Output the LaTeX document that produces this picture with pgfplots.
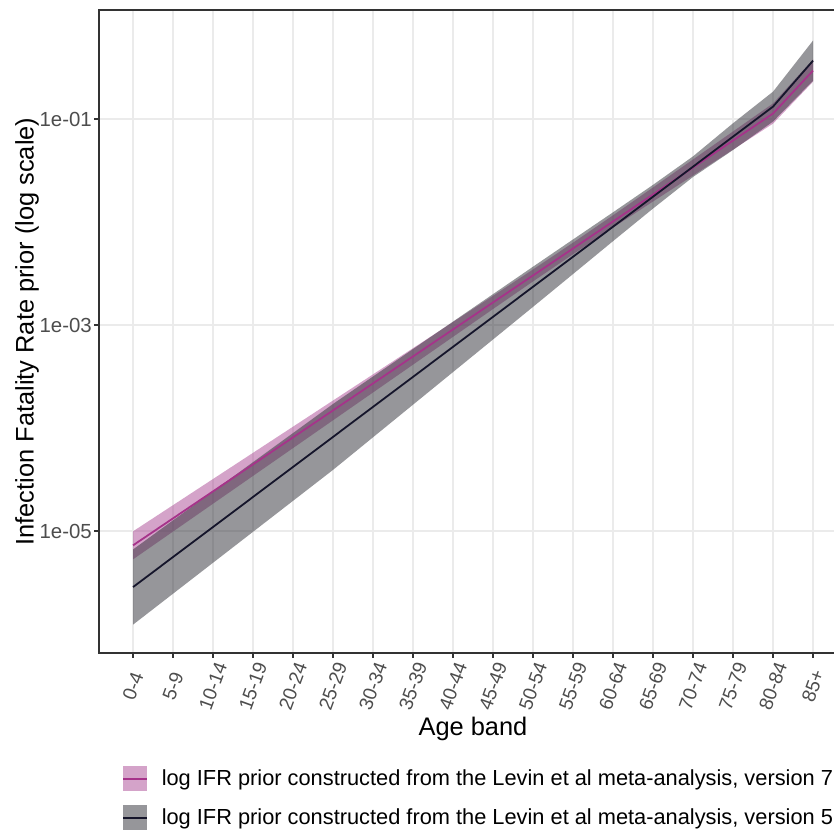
\documentclass[border=0pt]{standalone}
\usepackage{fontspec}
\setmainfont{Liberation Sans}
\usepackage{pgfplots}
\usepackage{pgfplotstable}
\pgfplotsset{compat=1.18}
\usepgfplotslibrary{fillbetween}
\definecolor{pinkfill}{HTML}{A94793}
\definecolor{pinkline}{HTML}{A6338A}
\definecolor{grayfill}{HTML}{2D2D35}
\definecolor{darkline}{HTML}{15152B}
\definecolor{gridc}{HTML}{EBEBEB}
\definecolor{axc}{HTML}{333333}
\definecolor{tickc}{HTML}{4D4D4D}
% log10 of the IFR prior: centre, lower and upper band edge
\pgfplotstableread{
i pc plo phi bc blo bhi
0 -5.139 -5.275 -5.003 -5.544 -5.909 -5.179
1 -4.877 -5.005 -4.749 -5.2525 -5.6085 -4.8965
2 -4.615 -4.735 -4.495 -4.961 -5.308 -4.614
3 -4.353 -4.465 -4.241 -4.6695 -5.0075 -4.3315
4 -4.091 -4.195 -3.987 -4.378 -4.707 -4.049
5 -3.829 -3.925 -3.733 -4.0865 -4.4065 -3.7665
6 -3.567 -3.655 -3.479 -3.795 -4.090 -3.500
7 -3.305 -3.385 -3.225 -3.5035 -3.7735 -3.2335
8 -3.043 -3.115 -2.971 -3.212 -3.457 -2.967
9 -2.781 -2.845 -2.717 -2.9205 -3.1405 -2.7005
10 -2.519 -2.577 -2.461 -2.629 -2.824 -2.434
11 -2.257 -2.313 -2.201 -2.3375 -2.5055 -2.1695
12 -1.995 -2.055 -1.935 -2.046 -2.186 -1.906
13 -1.733 -1.801 -1.665 -1.7545 -1.8695 -1.6395
14 -1.471 -1.549 -1.393 -1.463 -1.563 -1.363
15 -1.209 -1.297 -1.121 -1.1715 -1.3015 -1.0415
16 -0.947 -1.045 -0.849 -0.880 -1.025 -0.735
17 -0.530 -0.638 -0.422 -0.434 -0.629 -0.239
}\data
\begin{document}
\begin{tikzpicture}[x=1pt,y=1pt]
\begin{axis}[
  at={(49.5pt,89.5pt)}, anchor=south west, scale only axis,
  width=374pt, height=321.5pt,
  xmin=-0.85, xmax=17.85, ymin=-6.184, ymax=0.058,
  axis line style={axc, line width=0.9pt},
  tick style={axc, line width=0.9pt},
  major tick length=2.4pt,
  tick align=outside,
  xtick pos=lower, ytick pos=left,
  grid=major,
  major grid style={gridc, line width=1pt},
  xtick={0,1,...,17},
  xticklabels={0-4,5-9,10-14,15-19,20-24,25-29,30-34,35-39,40-44,45-49,50-54,55-59,60-64,65-69,70-74,75-79,80-84,85+},
  ytick={-5,-3,-1},
  yticklabels={1e-05,1e-03,1e-01},
  ticklabel style={text=tickc},
  xticklabel style={font=\fontsize{9.6}{11}\selectfont, rotate=70, anchor=center, inner sep=0pt},
  xticklabel shift=14.1pt,
  yticklabel style={font=\fontsize{10.2}{12}\selectfont, inner sep=1pt},
  xlabel={Age band},
  ylabel={Infection Fatality Rate prior (log scale)},
  label style={font=\fontsize{12.7}{15}\selectfont, text=black},
  xlabel style={at={(axis description cs:0.5,-0.118)}, anchor=center},
  ylabel style={at={(axis description cs:-0.0963,0.5)}, anchor=center},
  legend style={at={(axis description cs:0.0307,-0.1757)}, anchor=north west,
    draw=none, fill=none, inner sep=0pt, font=\fontsize{10.9}{13}\selectfont,
    nodes={inner sep=0pt}, column sep=6.8pt, row sep=7pt},
  legend cell align=left,
]
\addplot[draw=none, name path=plo, forget plot] table[x=i,y=plo]{\data};
\addplot[draw=none, name path=phi, forget plot] table[x=i,y=phi]{\data};
\addplot[draw=none, name path=blo, forget plot] table[x=i,y=blo]{\data};
\addplot[draw=none, name path=bhi, forget plot] table[x=i,y=bhi]{\data};
\addplot[pinkfill, fill opacity=0.5, draw=none, forget plot] fill between[of=plo and phi];
\addplot[grayfill, fill opacity=0.5, draw=none, forget plot] fill between[of=blo and bhi];
\addplot[pinkline, line width=0.9pt, forget plot] table[x=i,y=pc]{\data};
\addplot[darkline, line width=0.9pt, forget plot] table[x=i,y=bc]{\data};
\addlegendimage{legend image code/.code={\path[fill=pinkfill, fill opacity=0.5, draw=none] (0pt,-6.25pt) rectangle (12pt,6.25pt); \path[draw=pinkline, line width=0.9pt] (0pt,0pt) -- (12pt,0pt);}}
\addlegendentry{log IFR prior constructed from the Levin et al meta-analysis, version 7}
\addlegendimage{legend image code/.code={\path[fill=grayfill, fill opacity=0.5, draw=none] (0pt,-6.25pt) rectangle (12pt,6.25pt); \path[draw=darkline, line width=0.9pt] (0pt,0pt) -- (12pt,0pt);}}
\addlegendentry{log IFR prior constructed from the Levin et al meta-analysis, version 5}
\end{axis}
\pgfresetboundingbox
\useasboundingbox (0,0) rectangle (417,416);
\end{tikzpicture}
\end{document}
